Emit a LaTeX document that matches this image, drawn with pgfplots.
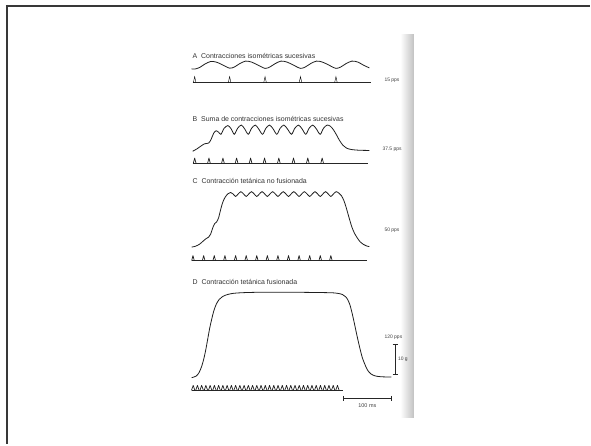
\documentclass[border=0pt]{standalone}
\usepackage{fontspec}
\setmainfont{Liberation Sans}
\usepackage{pgfplots}
\pgfplotsset{compat=1.18}

% stimulus spike drawn at each stimulus time
\pgfdeclareplotmark{spike}{%
  \pgfpathmoveto{\pgfqpoint{-\pgfplotmarksize}{0pt}}%
  \pgfpathlineto{\pgfqpoint{0pt}{5pt}}%
  \pgfpathlineto{\pgfqpoint{\pgfplotmarksize}{0pt}}%
  \pgfusepathqstroke}

\tikzset{
  ttl/.style={anchor=west, inner sep=0pt, text=black!80, font=\fontsize{7}{8}\selectfont},
  small/.style={anchor=west, inner sep=0pt, text=black!75, font=\fontsize{5}{6}\selectfont},
}

\begin{document}
\begin{tikzpicture}
\begin{axis}[
  scale only axis, width=591bp, height=445bp,
  xmin=0, xmax=591, ymin=0, ymax=445, y dir=reverse,
  hide axis, clip=false,
  trace/.style={black!88, line width=0.8bp, smooth, tension=0.5, no marks},
  base/.style={black!85, line width=0.7bp, no marks},
  stim/.style={only marks, mark=spike, mark size=1.3bp,
    mark options={black!88, line width=0.7bp, line join=round}},
]
% canvas size
\addplot[draw=none, forget plot] coordinates {(0,0) (591,445)};
% frame
\addplot[black!78, line width=2bp, no marks] coordinates {(6,6) (591,6)};
\addplot[black!78, line width=2.2bp, no marks] coordinates {(7,5) (7,445)};
% page shadow
\addplot[draw=none, left color=white, right color=black!24, no marks]
  coordinates {(401,35) (414.5,35) (414.5,418) (401,418) (401,35)};

% ---- A: 15 pps
\addplot[trace] coordinates {
 (192,69) (195,69.2) (200,67.6) (205,64.3) (211,61.6) (217,62.3) (223,65) (230,68.3)
 (235,67) (240,63.8) (246,61.2) (252,62.2) (258,65) (265.5,68.5)
 (270.5,67) (275.5,63.8) (281.5,61.2) (287.5,62.2) (293.5,65) (301,68.5)
 (306,67) (311,63.8) (317,61.2) (323,62.2) (329,65) (336.5,68.5)
 (341.5,67) (346.5,63.8) (352.5,61.2) (358.5,62.2) (364.5,65.5) (370,68)};
\addplot[base] coordinates {(193,82.7) (372,82.7)};
\addplot[stim, mark options={yscale=1.2}] coordinates {
 (195,82.7) (230,82.7) (265.5,82.7) (301,82.7) (336.5,82.7)};

% ---- B: 37.5 pps
\addplot[trace] coordinates {
 (193,151.5) (197,149.3) (201,146.5) (205,144) (209,143.3) (211.5,139.5)
 (214,133.5) (216.5,131) (219,132.5) (221.3,134.5) (224.5,128.5) (228.3,125.8)
 (231.5,129) (234.7,134.5) (238,128.5) (241.7,125.3) (245,129) (248.7,134.5)
 (252,128.5) (255.7,125.3) (259,129) (263,134.5) (266.3,128.5) (270,125.3)
 (273.5,129) (277.3,134.5) (280.6,128.5) (284.3,125.3) (287.8,129) (292,134.5)
 (295.3,128.5) (299,125.3) (302.5,129) (306.3,134.5) (309.6,128.5) (313.3,125.3)
 (316.8,129) (320.7,134.5) (324,128.5) (327.7,125.3) (331,126.5) (334,130)
 (337,135) (340,140.5) (343.5,145.5) (347,148.3) (352,149.8) (360,150.5) (370,150.7)};
\addplot[base] coordinates {(193,163.3) (369,163.3)};
\addplot[stim] coordinates {
 (195,163.3) (209.3,163.3) (223.3,163.3) (237,163.3) (251,163.3)
 (265,163.3) (279.3,163.3) (294,163.3) (308.3,163.3) (322.7,163.3)};

% ---- C: 50 pps
\addplot[trace] coordinates {
 (192,247.5) (196,246.6) (200,244.5) (203.5,241.5) (206.5,239) (209,237.5)
 (211,234.5) (213,228.5) (215,224) (217,222.3) (219,218) (221,210) (223,203)
 (225.5,197.5) (228.5,194) (231,192.8) (233.5,194.3) (236,196.8)
 (238.6,194.3) (241.3,192) (244,194.3) (246.6,196.8) (249.2,194.3) (251.9,192)
 (254.6,194.3) (257.2,196.8) (259.8,194.3) (262.5,192) (265.2,194.3) (267.8,196.8)
 (270.4,194.3) (273.1,192) (275.8,194.3) (278.4,196.8) (281,194.3) (283.7,192)
 (286.4,194.3) (289,196.8) (291.6,194.3) (294.3,192) (297,194.3) (299.6,196.8)
 (302.2,194.3) (304.9,192) (307.6,194.3) (310.2,196.8) (312.8,194.3) (315.5,192)
 (318.2,194.3) (320.8,196.8) (323.4,194.3) (326.1,192) (328.8,194.3) (331.4,196.8)
 (334,194.3) (336.7,192) (339.5,193.5) (342,196) (344.5,201) (346.5,207)
 (348.5,214) (350.5,221) (352.5,227.5) (355,233.5) (358,238.5) (361,242.5)
 (364,244.8) (367,246.3) (370,247)};
\addplot[base] coordinates {(192,261) (368,261)};
\addplot[stim] coordinates {
 (193.3,261) (204,261) (214.6,261) (225.3,261) (236,261) (246.6,261) (257.2,261)
 (267.8,261) (278.4,261) (289,261) (299.6,261) (310.2,261) (320.8,261) (331.4,261)};

% ---- D: 120 pps
\addplot[trace] coordinates {
 (192,378.3) (196.5,376.7) (199.5,373) (202,367) (204,360) (206,351) (208,340)
 (210,329) (212,320) (214,312) (216.5,305) (219.5,300) (223,297) (228,295)
 (234,293.8) (245,293.1) (265,292.7) (300,292.8) (330,293.2) (338,293.8)
 (343,295) (346.5,297.5) (349,301.5) (351,307) (353,315) (355,324)
 (357,333.5) (359,342.5) (361,351) (363,358.5) (365.5,365) (368,370.5)
 (371.5,374.5) (376,376.6) (382,377.4) (392,377.7)};
\addplot[base] coordinates {(192,391) (344,391)};
\addplot[stim, mark size=1.7bp] coordinates {
 (193.5,391) (197.75,391) (202,391) (206.25,391) (210.5,391) (214.75,391)
 (219,391) (223.25,391) (227.5,391) (231.75,391) (236,391) (240.25,391)
 (244.5,391) (248.75,391) (253,391) (257.25,391) (261.5,391) (265.75,391)
 (270,391) (274.25,391) (278.5,391) (282.75,391) (287,391) (291.25,391)
 (295.5,391) (299.75,391) (304,391) (308.25,391) (312.5,391) (316.75,391)
 (321,391) (325.25,391) (329.5,391) (333.75,391) (338,391)};

% scale bars
\addplot[base, line width=0.6bp] coordinates {(395.7,345) (395.7,375)};
\addplot[base, line width=0.6bp] coordinates {(393.2,345) (398.2,345)};
\addplot[base, line width=0.6bp] coordinates {(393.2,375) (398.2,375)};
\addplot[base, line width=0.6bp] coordinates {(344,399) (392.3,399)};
\addplot[base, line width=0.6bp] coordinates {(344,396.5) (344,401.5)};
\addplot[base, line width=0.6bp] coordinates {(392.3,396.5) (392.3,401.5)};

% titles and labels
\node[ttl] at (192.7,56) {A\hspace{4pt}Contracciones isométricas sucesivas};
\node[ttl] at (192.7,119) {B\hspace{4pt}Suma de contracciones isométricas sucesivas};
\node[ttl] at (192.7,181.7) {C\hspace{4pt}Contracción tetánica no fusionada};
\node[ttl] at (192.7,282.5) {D\hspace{4pt}Contracción tetánica fusionada};
\node[small] at (385,80) {15 pps};
\node[small] at (383,149.3) {37.5 pps};
\node[small] at (385,231) {50 pps};
\node[small] at (385,338.3) {120 pps};
\node[small] at (398.5,360) {10 g};
\node[small, anchor=center, font=\fontsize{5.5}{6}\selectfont] at (368,406.7) {100 ms};
\end{axis}
\end{tikzpicture}
\end{document}
